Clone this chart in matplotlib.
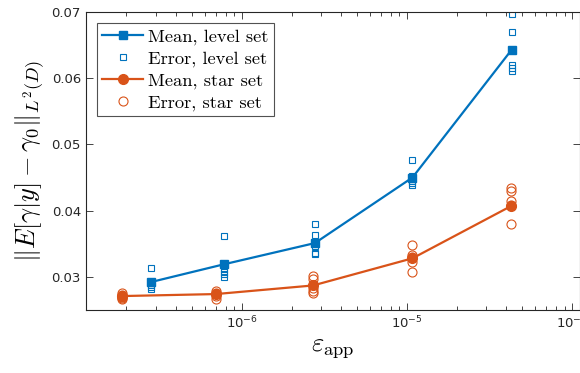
import numpy as np
import matplotlib.pyplot as plt

plt.rcParams['mathtext.fontset'] = 'cm'
plt.rcParams['axes.formatter.use_mathtext'] = True

# data
eps_level = [2.8e-7, 7.8e-7, 2.77e-6, 1.08e-5, 4.31e-5]
eps_star = [1.89e-7, 6.95e-7, 2.70e-6, 1.08e-5, 4.28e-5]

mean_level = [0.0292, 0.0319, 0.0351, 0.0450, 0.0643]
mean_star = [0.0271, 0.0274, 0.0287, 0.0328, 0.0407]

err_level = [
    [0.0313, 0.0290, 0.0284, 0.0282, 0.0288],
    [0.0362, 0.0312, 0.0308, 0.0304, 0.0300],
    [0.0380, 0.0363, 0.0346, 0.0335, 0.0336],
    [0.0477, 0.0452, 0.0444, 0.0441, 0.0439],
    [0.0697, 0.0670, 0.0620, 0.0616, 0.0611],
]
err_star = [
    [0.0276, 0.0273, 0.0270, 0.0268, 0.0267],
    [0.0279, 0.0276, 0.0274, 0.0271, 0.0266],
    [0.0302, 0.0297, 0.0283, 0.0278, 0.0276],
    [0.0348, 0.0333, 0.0322, 0.0308, 0.0330],
    [0.0434, 0.0430, 0.0414, 0.0409, 0.0380],
]

blue = '#0072BD'
orange = '#D95319'

fig = plt.figure(figsize=(5.8, 3.73), dpi=100)
ax = fig.add_axes([0.148, 0.169, 0.852, 0.799])

ax.plot(eps_level, mean_level, '-s', color=blue, lw=1.6, ms=5.8,
        mfc=blue, label='Mean, level set', zorder=3)
for i, e in enumerate(eps_level):
    ax.plot([e] * len(err_level[i]), err_level[i], 's', color=blue, mfc='none',
            ms=5, mew=0.8, label='Error, level set' if i == 0 else None, zorder=2)
ax.plot(eps_star, mean_star, '-o', color=orange, lw=1.6, ms=7,
        mfc=orange, label='Mean, star set', zorder=3)
for i, e in enumerate(eps_star):
    ax.plot([e] * len(err_star[i]), err_star[i], 'o', color=orange, mfc='none',
            ms=6.5, mew=0.8, label='Error, star set' if i == 0 else None, zorder=2)

leg = ax.legend(loc='upper left', bbox_to_anchor=(0.022, 0.963), borderaxespad=0,
                prop={'family': 'cmr10', 'size': 13.3}, frameon=True, fancybox=False,
                edgecolor='#262626', handlelength=2.2, borderpad=0.3,
                labelspacing=0.3, handletextpad=0.3)
leg.get_frame().set_linewidth(0.8)

ax.set_xscale('log')
ax.set_xlim(1.135e-7, 1.117e-4)
ax.set_ylim(0.025, 0.07)
ax.set_yticks([0.03, 0.04, 0.05, 0.06, 0.07])
ax.set_yticklabels(['0.03', '0.04', '0.05', '0.06', '0.07'])
ax.tick_params(which='both', direction='in', top=True, right=True,
               colors='#262626', labelsize=9.5, width=0.6)
ax.tick_params(which='major', length=5)
ax.tick_params(which='minor', length=3)
for s in ax.spines.values():
    s.set_color('#262626')
    s.set_linewidth(0.8)

ax.set_xlabel(r'$\varepsilon_{\mathrm{app}}$', fontsize=19, labelpad=2)
ax.set_ylabel(r'$\|E[\gamma|y]-\gamma_0\|_{L^2(D)}$', fontsize=19, labelpad=3)

fig.savefig('out.png', dpi=100)
